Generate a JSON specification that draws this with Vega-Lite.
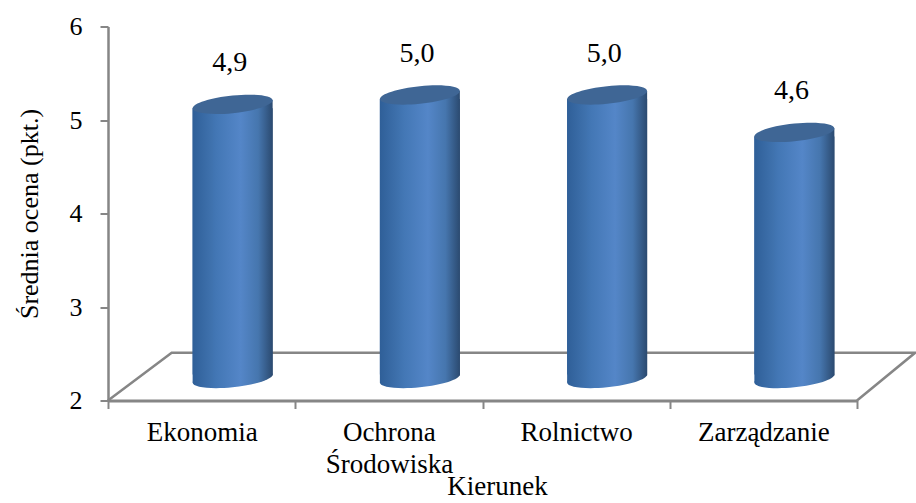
{
"$schema":"https://vega.github.io/schema/vega-lite/v6.json",
"width":749,"height":374,"autosize":"none",
"padding":{"left":108,"top":26.5,"right":59,"bottom":102.5},
"background":"white",
"config":{"view":{"stroke":null},"font":"Liberation Serif"},
"datasets":{
"bars":[
{"kierunek":"Ekonomia","ocena":4.9,"etykieta":"4,9"},
{"kierunek":"Ochrona Środowiska","ocena":5.0,"etykieta":"5,0"},
{"kierunek":"Rolnictwo","ocena":5.0,"etykieta":"5,0"},
{"kierunek":"Zarządzanie","ocena":4.6,"etykieta":"4,6"}],
"floor":[
{"i":0,"fx":0,"fy":2},
{"i":1,"fx":0.34,"fy":2.51},
{"i":2,"fx":4.31,"fy":2.51},
{"i":3,"fx":4,"fy":2}]
},
"resolve":{"scale":{"x":"independent"},"axis":{"x":"independent"}},
"layer":[
{"data":{"name":"floor"},
 "mark":{"type":"line","color":"#868686","strokeWidth":2.5,"clip":false,"interpolate":"linear"},
 "encoding":{
  "x":{"field":"fx","type":"quantitative","scale":{"domain":[0,4]},"axis":null},
  "y":{"field":"fy","type":"quantitative","scale":{"domain":[2,6],"zero":false,"nice":false},
    "axis":{"values":[2,3,4,5,6],"format":"d","grid":false,"domainColor":"#868686","domainWidth":2.5,"tickColor":"#868686","tickWidth":2,"tickSize":8,"labelFont":"Liberation Serif","labelFontSize":26,"labelColor":"#000000","labelPadding":18,"title":"Średnia ocena (pkt.)","titleFont":"Liberation Serif","titleFontSize":26,"titleFontWeight":"normal","titleColor":"#000000","titlePadding":27}},
  "order":{"field":"i"}}},
{"data":{"name":"bars"},
 "layer":[
 {"mark":{"type":"point","filled":true,"opacity":1,"size":6400,"xOffset":31,"yOffset":-22,"shape":"M1,-0.1C1,0.0215,0.5523,0.1648,0,0.22C-0.5523,0.2752,-1,0.2215,-1,0.1C-1,-0.0215,-0.5523,-0.1648,0,-0.22C0.5523,-0.2752,1,-0.2215,1,-0.1Z",
   "fill":{"gradient":"linear","x1":0,"x2":1,"y1":0,"y2":0,"stops":[{"offset":0,"color":"#2f5f98"},{"offset":0.3,"color":"#4377b5"},{"offset":0.6,"color":"#5486c8"},{"offset":0.82,"color":"#4676ae"},{"offset":1,"color":"#2b4a70"}]}},
  "encoding":{"x":{"field":"kierunek","type":"nominal"},"y":{"datum":2,"type":"quantitative"}}},
 {"mark":{"type":"bar","width":80,"xOffset":31,"yOffset":-21,"y2Offset":-26,
   "fill":{"gradient":"linear","x1":0,"x2":1,"y1":0,"y2":0,"stops":[{"offset":0,"color":"#2f5f98"},{"offset":0.3,"color":"#4377b5"},{"offset":0.6,"color":"#5486c8"},{"offset":0.82,"color":"#4676ae"},{"offset":1,"color":"#2b4a70"}]}},
  "encoding":{
   "x":{"field":"kierunek","type":"nominal","sort":null,"scale":{"paddingInner":0,"paddingOuter":0},
    "axis":{"tickBand":"extent","labelAngle":0,"labelAlign":"center","domainColor":"#868686","domainWidth":3,"tickColor":"#868686","tickWidth":2,"tickSize":8,"labelFont":"Liberation Serif","labelFontSize":27,"labelColor":"#000000","labelPadding":24,"labelLineHeight":32,"labelLimit":0,"labelExpr":"datum.label=='Ochrona Środowiska'?['Ochrona','Środowiska']:datum.label","title":"Kierunek","titleFont":"Liberation Serif","titleFontSize":27,"titleFontWeight":"normal","titleColor":"#000000","titleX":389,"titleY":86,"titleAlign":"center","titleBaseline":"middle"}},
   "y":{"field":"ocena","type":"quantitative","stack":null},
   "y2":{"datum":2}}},
 {"mark":{"type":"bar","width":20,"xOffset":61,"yOffset":-29,"y2Offset":-25,
   "fill":{"gradient":"linear","x1":0,"x2":1,"y1":0,"y2":0,"stops":[{"offset":0,"color":"#4a7bb6"},{"offset":0.28,"color":"#4676ae"},{"offset":1,"color":"#2b4a70"}]}},
  "encoding":{"x":{"field":"kierunek","type":"nominal"},"y":{"field":"ocena","type":"quantitative","stack":null},"y2":{"datum":2}}},
 {"mark":{"type":"bar","width":20,"xOffset":1,"yOffset":-21,"y2Offset":-18,
   "fill":{"gradient":"linear","x1":0,"x2":1,"y1":0,"y2":0,"stops":[{"offset":0,"color":"#2f5f98"},{"offset":1,"color":"#4073af"}]}},
  "encoding":{"x":{"field":"kierunek","type":"nominal"},"y":{"field":"ocena","type":"quantitative","stack":null},"y2":{"datum":2}}},
 {"mark":{"type":"point","filled":true,"opacity":1,"size":6400,"xOffset":31,"yOffset":-25,"shape":"M1,-0.1C1,0.0215,0.5523,0.1648,0,0.22C-0.5523,0.2752,-1,0.2215,-1,0.1C-1,-0.0215,-0.5523,-0.1648,0,-0.22C0.5523,-0.2752,1,-0.2215,1,-0.1Z","fill":"#3f6695"},
  "encoding":{"x":{"field":"kierunek","type":"nominal"},"y":{"field":"ocena","type":"quantitative"}}},
 {"mark":{"type":"text","font":"Liberation Serif","fontSize":28,"color":"#000000","dx":28,"dy":-66,"baseline":"middle"},
  "encoding":{"x":{"field":"kierunek","type":"nominal"},"y":{"field":"ocena","type":"quantitative"},"text":{"field":"etykieta"}}}
 ]}
]
}
